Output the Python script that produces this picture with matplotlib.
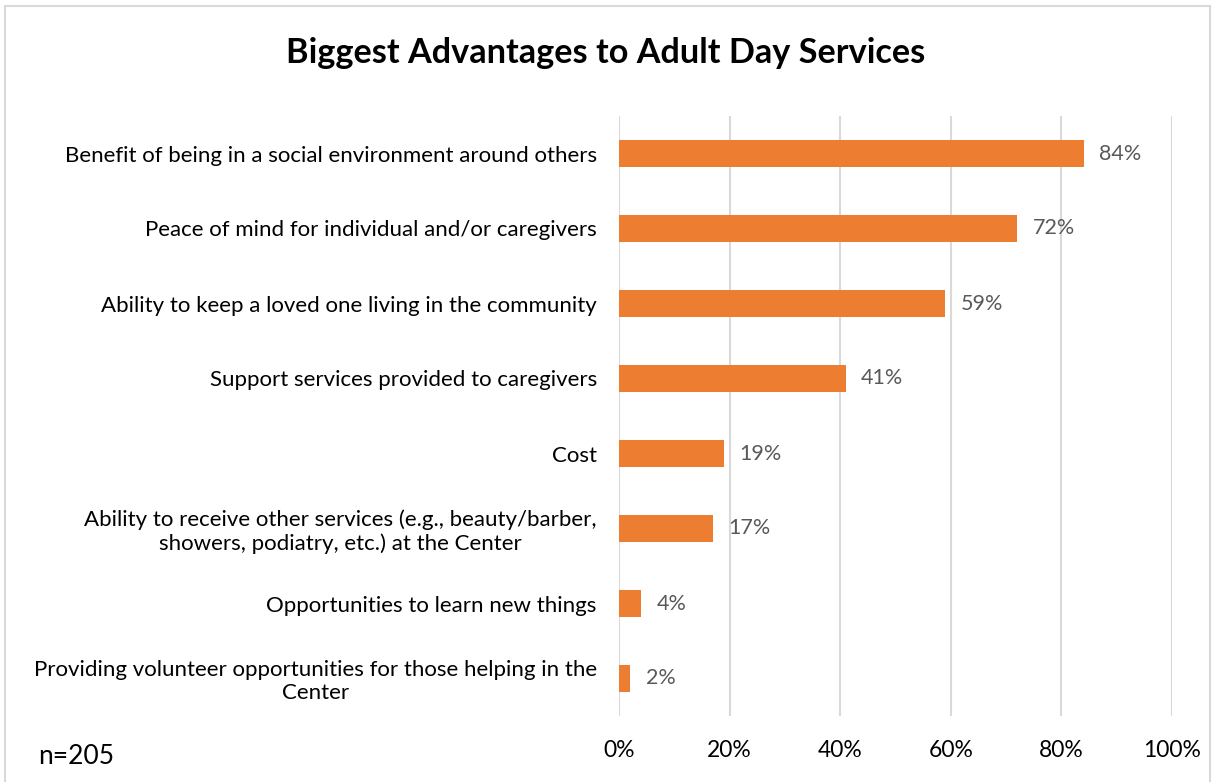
import matplotlib.pyplot as plt
from matplotlib.patches import Rectangle

# Survey results (share of respondents, n=205)
categories = [
    'Benefit of being in a social environment around others',
    'Peace of mind for individual and/or caregivers',
    'Ability to keep a loved one living in the community',
    'Support services provided to caregivers',
    'Cost',
    'Ability to receive other services (e.g., beauty/barber,\nshowers, podiatry, etc.) at the Center',
    'Opportunities to learn new things',
    'Providing volunteer opportunities for those helping in the\nCenter',
]
values = [84, 72, 59, 41, 19, 17, 4, 2]
xticks = [0, 20, 40, 60, 80, 100]

plt.rcParams['font.family'] = ['Lato', 'DejaVu Sans']

fig = plt.figure(figsize=(12.12, 7.82), dpi=100)
fig.patches.append(Rectangle((5 / 1212, -0.01), 1205 / 1212, 1 - 6 / 782 + 0.01,
                             transform=fig.transFigure, fill=False,
                             edgecolor='#d9d9d9', linewidth=1.5))

ax = fig.add_axes([619 / 1212, 66 / 782, 553 / 1212, 600 / 782])
y = list(range(len(categories)))
ax.barh(y, values, height=0.35, color='#ED7D31', zorder=3)
ax.set_ylim(len(categories) - 0.5, -0.5)
ax.set_xlim(0, 100)

for yi, v in zip(y, values):
    ax.text(v + 2.8, yi, f'{v}%', va='center', ha='left', fontsize=15.5, color='#595959')

ax.set_yticks(y)
ax.set_yticklabels(categories, fontsize=16, multialignment='center', linespacing=1.15)
ax.set_xticks(xticks)
ax.set_xticklabels([f'{t}%' for t in xticks], fontsize=16.5)
ax.tick_params(axis='both', length=0)
ax.tick_params(axis='y', pad=16)
ax.tick_params(axis='x', pad=17)
ax.grid(axis='x', color='#d9d9d9', linewidth=1.5, zorder=0)
for s in ax.spines.values():
    s.set_visible(False)

fig.text(0.5, 1 - 53 / 782, 'Biggest Advantages to Adult Day Services',
         ha='center', va='center', fontsize=24.7, fontweight='bold')
fig.text(38 / 1212, 1 - 757 / 782, 'n=205', ha='left', va='center', fontsize=19)

fig.savefig('out.png', dpi=100)
